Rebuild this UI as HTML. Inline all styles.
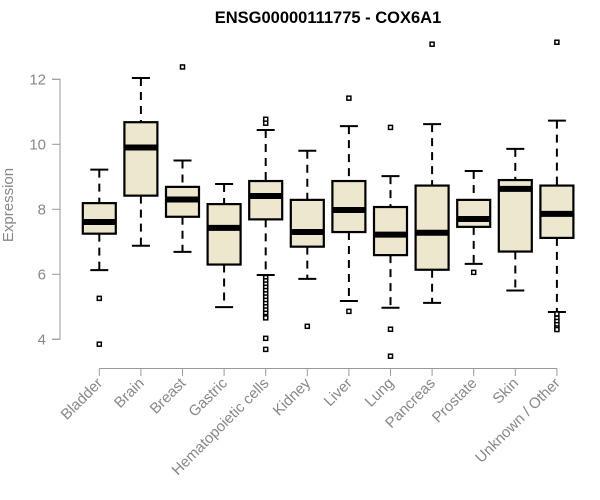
<!DOCTYPE html>
<html><head><meta charset="utf-8"><style>
body{margin:0;background:#fff;}
svg{display:block;font-family:"Liberation Sans",Arial,sans-serif;}
</style></head><body>
<svg id="chart" width="600" height="500">
<text x="328" y="23" text-anchor="middle" font-size="16.5" font-weight="bold" fill="#000">ENSG00000111775 - COX6A1</text>
<text transform="translate(13,205) rotate(-90)" text-anchor="middle" font-size="15" fill="#888">Expression</text>
<g id="plot"></g>
</svg>
<script>
const categories=["Bladder","Brain","Breast","Gastric","Hematopoietic cells","Kidney","Liver","Lung","Pancreas","Prostate","Skin","Unknown / Other"];
const whiskerLow=[6.13,6.88,6.69,4.99,5.98,5.86,5.18,4.97,5.12,6.32,5.50,4.84];
const q1=[7.25,8.42,7.77,6.30,7.69,6.85,7.30,6.59,6.14,7.46,6.70,7.12];
const medians=[7.61,9.90,8.30,7.43,8.41,7.30,7.98,7.22,7.28,7.70,8.63,7.86];
const q3=[8.19,10.68,8.69,8.16,8.87,8.29,8.87,8.07,8.73,8.29,8.90,8.73];
const whiskerHigh=[9.22,12.04,9.50,8.78,10.44,9.80,10.56,9.02,10.62,9.18,9.86,10.73];
const outliers=[[5.26,3.85],[],[12.38],[],[10.77,10.65,5.9,5.8,5.7,5.6,5.5,5.4,5.3,5.2,5.1,5.0,4.9,4.8,4.7,4.66,4.03,3.69],[4.40],[11.42,4.86],[10.52,4.31,3.48],[13.08],[6.06],[],[13.14,4.78,4.65,4.55,4.45,4.35,4.30]];
const yTicks=[4,6,8,10,12];
const NS="http://www.w3.org/2000/svg";
const g=document.getElementById('plot');
function y(v){return 339.3-(v-4)*32.5;}
function x(i){return 99.3+i*41.6;}
function el(t,a){const e=document.createElementNS(NS,t);for(const k in a)e.setAttribute(k,a[k]);g.appendChild(e);return e;}
let ax=el('path',{d:`M52,${y(12)}H60V${y(4)}H52`,fill:'none',stroke:'#999','stroke-width':1});


yTicks.forEach(v=>{
 const tk=el('line',{x1:52,x2:60,y1:y(v),y2:y(v),stroke:'#999'});
 
 
 const t=el('text',{x:46,y:y(v)+5,'text-anchor':'end','font-size':15,fill:'#888'});
 t.textContent=v;
 
 
});
const xa=el('line',{x1:x(0),x2:x(11),y1:368.5,y2:368.5,stroke:'#999'});


categories.forEach((c,i)=>{
 const cx=x(i);
 const tk=el('line',{x1:cx,x2:cx,y1:368.5,y2:376,stroke:'#999'});
 
 
 const t=el('text',{x:cx+4,y:384,'text-anchor':'end','font-size':15,fill:'#888',transform:`rotate(-45 ${cx+4} 384)`});
 t.textContent=c;
 
 
 const w1=el('line',{x1:cx,x2:cx,y1:y(whiskerHigh[i]),y2:y(q3[i]),stroke:'#000','stroke-width':2,'stroke-dasharray':'8,6'});
 
 
 const w2=el('line',{x1:cx,x2:cx,y1:y(q1[i]),y2:y(whiskerLow[i]),stroke:'#000','stroke-width':2,'stroke-dasharray':'8,6'});
 
 
 [whiskerHigh[i],whiskerLow[i]].forEach(v=>{
  const cp=el('line',{x1:cx-9,x2:cx+9,y1:y(v),y2:y(v),stroke:'#000','stroke-width':2});
  
  
 });
 const b=el('rect',{x:cx-16.5,y:y(q3[i]),width:33,height:y(q1[i])-y(q3[i]),fill:'#ede7cd',stroke:'#000','stroke-width':2.2});
 
 
 const m=el('line',{x1:cx-16.5,x2:cx+16.5,y1:y(medians[i]),y2:y(medians[i]),stroke:'#000','stroke-width':6});
 
 
 outliers[i].forEach(v=>{
  const o=el('rect',{x:cx-2,y:y(v)-2,width:4,height:4,fill:'#fff',stroke:'#000','stroke-width':1.5});
  
  
 });
});
</script>
</body></html>
